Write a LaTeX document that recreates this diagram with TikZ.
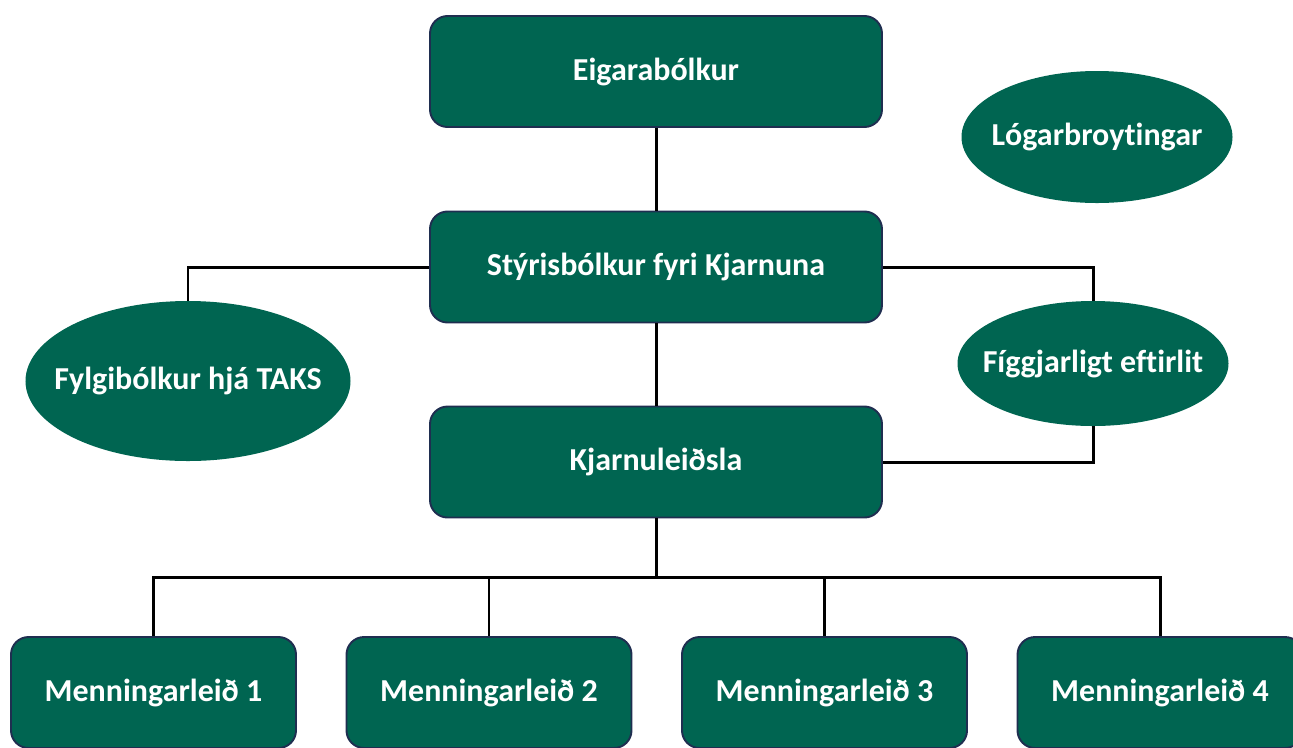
\documentclass[tikz,border=0pt]{standalone}
\usepackage{fontspec}
\setmainfont[Ligatures=NoCommon]{Carlito}
\usetikzlibrary{shapes.geometric}
\definecolor{boxgreen}{RGB}{0,101,81}
\definecolor{boxedge}{RGB}{31,46,80}

\begin{document}
\begin{tikzpicture}[
    box/.style={draw=boxedge,line width=1.1pt,fill=boxgreen,rounded corners=10pt,
      minimum width=9.04cm,minimum height=2.22cm,text=white,
      font=\fontsize{18.2}{22}\selectfont\bfseries},
    leaf/.style={box,minimum width=5.7cm},
    oval/.style={ellipse,fill=boxgreen,inner xsep=-1.2cm,inner ysep=-0.6cm,text=white,
      font=\fontsize{18.2}{22}\selectfont\bfseries},
    link/.style={line width=1.7pt}
  ]
                \useasboundingbox (0,0) rectangle (25.86,-14.94);
                % middle column
                \node[box] (eigar) at (13.12,-1.43){Eigarabólkur};
                \node[box] (styri) at (13.12,-5.34){Stýrisbólkur fyri Kjarnuna};
                \node[box] (kjarni) at (13.12,-9.24){Kjarnuleiðsla};
                % side ovals
                \node[oval,minimum width=5.42cm,minimum height=2.64cm] (logar) at (21.94,-2.74){Lógarbroytingar};
                \node[oval,minimum width=5.42cm,minimum height=2.5cm] (figg) at (21.86,-7.27){Fíggjarligt eftirlit};
                \node[oval,minimum width=6.5cm,minimum height=3.2cm] (fylgi) at (3.76,-7.62){Fylgibólkur hjá TAKS};
                % bottom row
                \foreach \i/\x in {1/3.07,2/9.78,3/16.49,4/23.2}
                    \node[leaf] (m\i) at (\x,-13.85){Menningarleið \i};
                \coordinate (bus) at (13.12,-11.54);
                % connectors
                \draw[link] (eigar) -- (styri);
                \draw[link] (styri) -- (kjarni);
                \draw[link] (styri.west) -| (fylgi.north);
                \draw[link] (styri.east) -| (figg.north);
                \draw[link] (figg.south) |- (kjarni.east);
                \foreach \i in {1,...,4}
                    \draw[link] (kjarni.south) -- (bus) -| (m\i.north);
            \end{tikzpicture}
\end{document}
